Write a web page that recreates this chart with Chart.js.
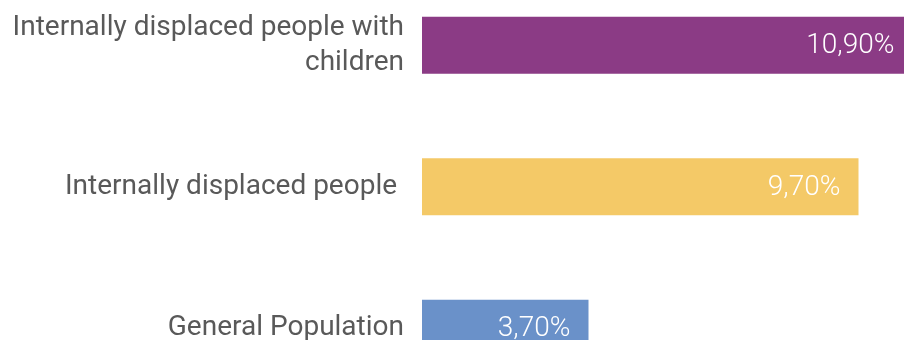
<!DOCTYPE html>
<html>
<head>
<meta charset="utf-8">
<script src="https://cdn.jsdelivr.net/npm/chart.js@4/dist/chart.umd.min.js"></script>
<style>
  html, body { margin: 0; padding: 0; background: #fff; overflow: hidden; width: 904px; height: 340px; }
  #wrap { position: absolute; left: 0; top: -61px; width: 917px; height: 513px; }
</style>
</head>
<body>
<div id="wrap"><canvas id="barChart" width="917" height="513"></canvas></div>
<script>
const categorias = [
    ['Internally displaced people with', 'children'],
    'Internally displaced people ',
    'General Population'
];
const valores = [10.9, 9.7, 3.7];
const cores = ['#8b3b85', '#f4c967', '#6a91c9'];

// rótulos brancos dentro da barra, alinhados à direita
const rotulosBarra = {
    id: 'rotulosBarra',
    afterDatasetsDraw(chart) {
        const ctx = chart.ctx;
        const meta = chart.getDatasetMeta(0);
        ctx.save();
        ctx.font = '300 28px Roboto';
        ctx.fillStyle = '#ffffff';
        ctx.textAlign = 'right';
        ctx.textBaseline = 'middle';
        meta.data.forEach((bar, i) => {
            const txt = valores[i].toFixed(2).replace('.', ',') + '%';
            ctx.fillText(txt, bar.x - 18, bar.y + 1);
        });
        ctx.restore();
    }
};

const ctx = document.getElementById('barChart').getContext('2d');
new Chart(ctx, {
    type: 'bar',
    data: {
        labels: categorias,
        datasets: [{
            data: valores,
            backgroundColor: cores,
            borderWidth: 0,
            categoryPercentage: 1,
            barPercentage: 0.404
        }]
    },
    options: {
        indexAxis: 'y',
        responsive: false,
        animation: false,
        devicePixelRatio: 1,
        layout: { padding: 0 },
        plugins: {
            legend: { display: false },
            tooltip: { enabled: false }
        },
        scales: {
            x: {
                display: false,
                min: 0,
                max: 11
            },
            y: {
                grid: { display: false, drawTicks: false },
                border: { display: false },
                ticks: {
                    color: '#595959',
                    padding: 18,
                    font: { family: 'Roboto', size: 28, lineHeight: 1.25 }
                },
                afterFit: function (scale) {
                    scale.width = 422;
                }
            }
        }
    },
    plugins: [rotulosBarra]
});
</script>
</body>
</html>
